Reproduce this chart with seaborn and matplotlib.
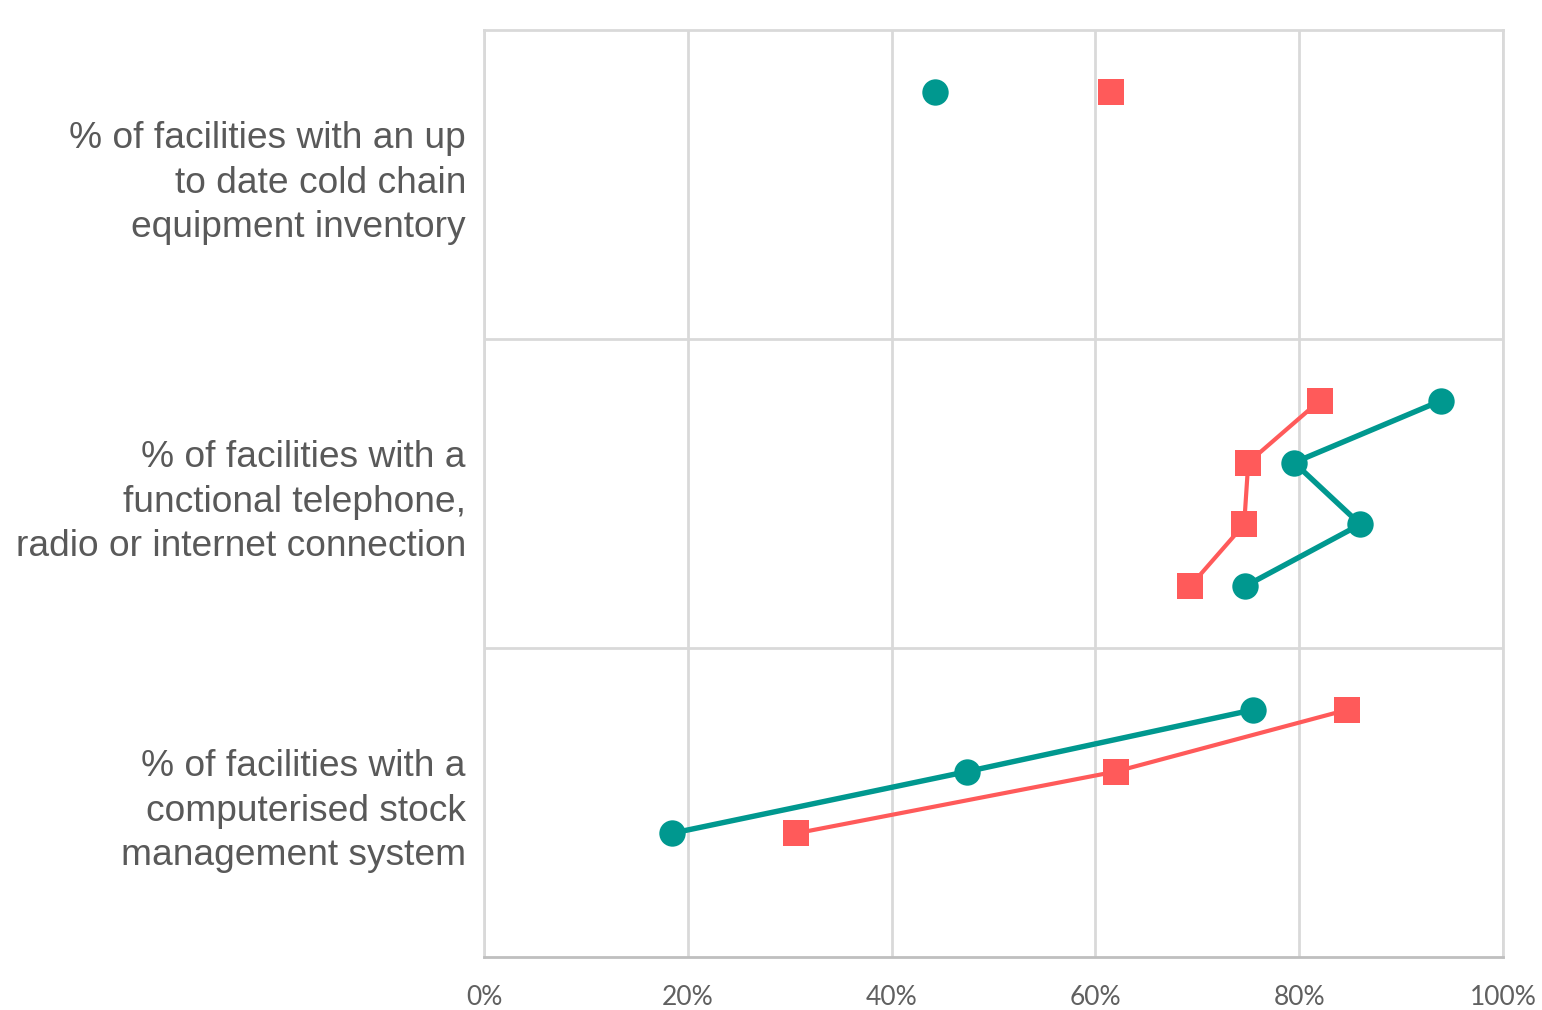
import pandas as pd
import numpy as np
import matplotlib
matplotlib.use("Agg")
import matplotlib.pyplot as plt
import matplotlib.transforms as mtransforms
import seaborn as sns

# Indicators (one band each) and the values of both series, row by row
indicators = [
    "% of facilities with an up\nto date cold chain\nequipment inventory",
    "% of facilities with a\nfunctional telephone,\nradio or internet connection",
    "% of facilities with a\ncomputerised stock\nmanagement system",
]
teal_values = [
    [44.3],
    [93.9, 79.5, 86.0, 74.7],
    [75.5, 47.4, 18.4],
]
red_values = [
    [61.5],
    [82.0, 75.0, 74.6, 69.3],
    [84.7, 62.0, 30.6],
]
x_ticks = [0, 20, 40, 60, 80, 100]

TEAL = "#00988F"
RED = "#FF5A5A"
GRID = "#D9D9D9"
TEXT = "#595959"
ROWS = 5  # slots per band

# long table: band, row position, series, value
records = []
for b in range(len(indicators)):
    for k, v in enumerate(teal_values[b]):
        records.append((b, b * ROWS + k + 1, "teal", v))
    for k, v in enumerate(red_values[b]):
        records.append((b, b * ROWS + k + 1, "red", v))
df = pd.DataFrame(records, columns=["band", "pos", "series", "value"])

sns.set_style("white")
fig = plt.figure(figsize=(15.42, 10.10), dpi=100)
ax = fig.add_axes([0.3139, 0.0525, 0.6608, 0.9178])

styles = {
    "red": dict(color=RED, marker="s", markersize=19, linewidth=3.0, zorder=3),
    "teal": dict(color=TEAL, marker="o", markersize=19, linewidth=3.9, zorder=4),
}
for b in range(len(indicators)):
    for name in ["red", "teal"]:
        sub = df[(df["band"] == b) & (df["series"] == name)]
        st = styles[name]
        sns.lineplot(data=sub, x="value", y="pos", sort=False, estimator=None,
                     color=st["color"], marker=st["marker"], markersize=st["markersize"],
                     markeredgewidth=0, linewidth=st["linewidth"], zorder=st["zorder"],
                     ax=ax, legend=False)

ax.set_xlim(0, 100)
ax.set_ylim(len(indicators) * ROWS, 0)
ax.set_xticks(x_ticks)
ax.set_xticklabels([f"{t}%" for t in x_ticks], fontsize=19, color="#606060", family="Lato")
ax.set_yticks([b * ROWS + ROWS / 2 for b in range(len(indicators))])
ax.set_yticklabels(indicators, fontsize=26.7, color=TEXT, family="Liberation Sans",
                   linespacing=1.34)
ax.tick_params(axis="x", length=0, pad=20)
ax.tick_params(axis="y", length=0, pad=13)
ax.set_xlabel("")
ax.set_ylabel("")

# the first label sits a little above its band centre in the original
top_lab = ax.get_yticklabels()[0]
top_lab.set_transform(top_lab.get_transform() +
                      mtransforms.ScaledTranslation(0, 0.1, fig.dpi_scale_trans))

# vertical grid and band separators
ax.grid(axis="x", color=GRID, linewidth=2)
for b in range(1, len(indicators)):
    ax.axhline(b * ROWS, color=GRID, linewidth=2, zorder=1)
for side in ["top", "right", "left"]:
    ax.spines[side].set_color(GRID)
    ax.spines[side].set_linewidth(2)
ax.spines["bottom"].set_color("#BFBFBF")
ax.spines["bottom"].set_linewidth(2)
ax.set_axisbelow(True)

fig.savefig("out.png", dpi=100)
